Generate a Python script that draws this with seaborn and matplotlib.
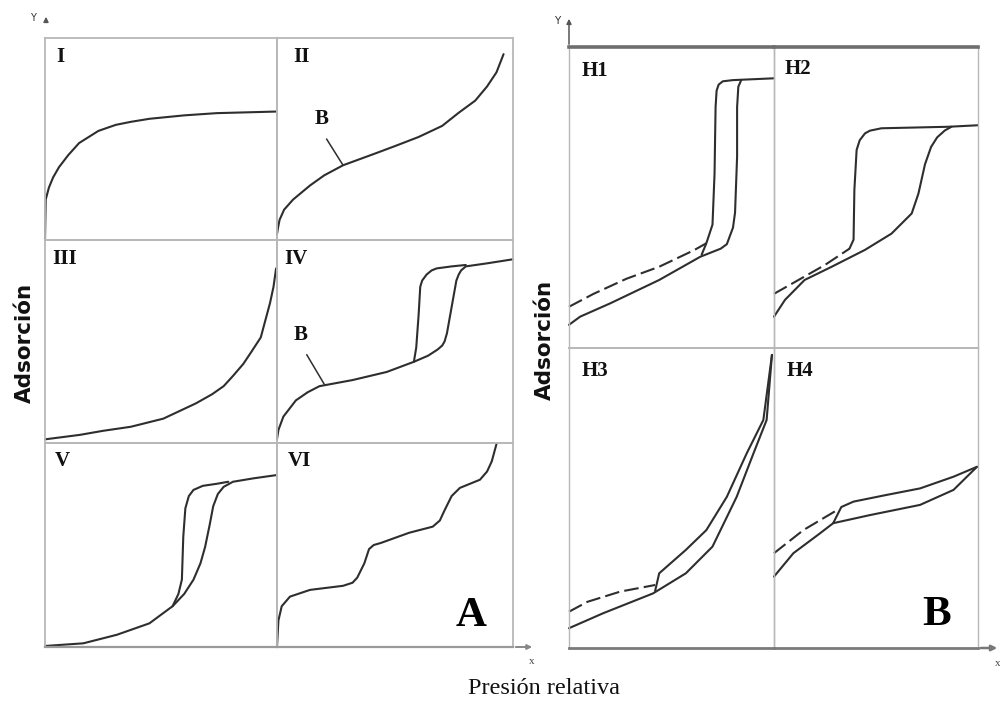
import matplotlib
matplotlib.use("Agg")
import matplotlib.pyplot as plt
import seaborn as sns

# ---------------- data (fractions of each cell: x = relative pressure, y = adsorption)
I_x = [0.0, 0.003, 0.017, 0.035, 0.06, 0.10, 0.147, 0.23, 0.305, 0.37, 0.45, 0.60, 0.74, 1.0]
I_y = [0.0, 0.20, 0.26, 0.31, 0.36, 0.42, 0.48, 0.54, 0.57, 0.585, 0.60, 0.617, 0.628, 0.636]

II_x = [0.0, 0.005, 0.011, 0.03, 0.068, 0.14, 0.20, 0.28, 0.35, 0.42, 0.50, 0.60, 0.70, 0.77, 0.84, 0.89, 0.93, 0.96]
II_y = [0.03, 0.065, 0.10, 0.15, 0.20, 0.27, 0.32, 0.37, 0.40, 0.43, 0.465, 0.51, 0.565, 0.63, 0.69, 0.76, 0.83, 0.92]

III_x = [0.0, 0.15, 0.25, 0.37, 0.51, 0.65, 0.72, 0.77, 0.81, 0.855, 0.89, 0.93, 0.97, 0.985, 0.996]
III_y = [0.018, 0.04, 0.06, 0.08, 0.12, 0.195, 0.24, 0.28, 0.33, 0.39, 0.45, 0.52, 0.69, 0.77, 0.86]

IV_ads_x = [0.0, 0.006, 0.027, 0.08, 0.13, 0.18, 0.32, 0.465, 0.58, 0.64, 0.68, 0.70, 0.71, 0.72, 0.74, 0.76, 0.77, 0.78, 0.80, 0.89, 1.0]
IV_ads_y = [0.02, 0.064, 0.13, 0.21, 0.25, 0.28, 0.31, 0.35, 0.40, 0.43, 0.46, 0.48, 0.50, 0.54, 0.67, 0.80, 0.83, 0.85, 0.87, 0.885, 0.905]
IV_des_x = [0.58, 0.59, 0.60, 0.607, 0.615, 0.634, 0.655, 0.676, 0.74, 0.80]
IV_des_y = [0.40, 0.47, 0.63, 0.77, 0.80, 0.83, 0.85, 0.86, 0.87, 0.877]

V_ads_x = [0.0, 0.165, 0.31, 0.45, 0.55, 0.60, 0.64, 0.67, 0.69, 0.71, 0.725, 0.745, 0.77, 0.81, 0.90, 1.0]
V_ads_y = [0.005, 0.018, 0.06, 0.116, 0.20, 0.26, 0.33, 0.41, 0.49, 0.60, 0.69, 0.75, 0.785, 0.81, 0.827, 0.843]
V_des_x = [0.55, 0.575, 0.59, 0.596, 0.605, 0.62, 0.64, 0.68, 0.74, 0.79]
V_des_y = [0.20, 0.26, 0.33, 0.54, 0.68, 0.74, 0.77, 0.79, 0.80, 0.81]

VI_x = [0.0, 0.006, 0.02, 0.055, 0.14, 0.28, 0.32, 0.34, 0.37, 0.39, 0.41, 0.44, 0.56, 0.66, 0.69, 0.71, 0.74, 0.775, 0.86, 0.89, 0.91, 0.93]
VI_y = [0.0, 0.13, 0.20, 0.247, 0.28, 0.30, 0.315, 0.34, 0.41, 0.48, 0.50, 0.51, 0.56, 0.59, 0.62, 0.67, 0.74, 0.78, 0.82, 0.86, 0.91, 0.995]

H1_ads_x = [0.0, 0.054, 0.2, 0.44, 0.64, 0.74, 0.77, 0.80, 0.81, 0.82, 0.82, 0.826, 0.84]
H1_ads_y = [0.077, 0.104, 0.148, 0.226, 0.303, 0.33, 0.345, 0.40, 0.45, 0.636, 0.80, 0.868, 0.89]
H1_des_x = [1.0, 0.80, 0.75, 0.73, 0.72, 0.715, 0.71, 0.70, 0.67, 0.647]
H1_des_y = [0.896, 0.89, 0.886, 0.875, 0.855, 0.80, 0.58, 0.41, 0.348, 0.31]
H1_dash_x = [0.0, 0.12, 0.28, 0.44, 0.61, 0.67]
H1_dash_y = [0.137, 0.18, 0.23, 0.27, 0.325, 0.348]

H2_ads_x = [0.0, 0.054, 0.15, 0.283, 0.446, 0.576, 0.675, 0.708, 0.74, 0.77, 0.80, 0.838, 0.87]
H2_ads_y = [0.104, 0.16, 0.226, 0.27, 0.326, 0.38, 0.447, 0.513, 0.61, 0.668, 0.70, 0.723, 0.735]
H2_des_x = [1.0, 0.855, 0.527, 0.47, 0.446, 0.42, 0.405, 0.394, 0.39, 0.37]
H2_des_y = [0.74, 0.735, 0.73, 0.722, 0.713, 0.69, 0.658, 0.525, 0.36, 0.33]
H2_dash_x = [0.0, 0.12, 0.25, 0.37]
H2_dash_y = [0.18, 0.226, 0.276, 0.33]

H3_ads_x = [0.0, 0.167, 0.41, 0.57, 0.70, 0.818, 0.9, 0.964, 0.99]
H3_ads_y = [0.066, 0.116, 0.182, 0.249, 0.338, 0.504, 0.649, 0.76, 0.977]
H3_des_x = [0.99, 0.948, 0.867, 0.77, 0.67, 0.57, 0.44, 0.42]
H3_des_y = [0.977, 0.76, 0.649, 0.504, 0.393, 0.327, 0.249, 0.19]
H3_dash_x = [0.0, 0.09, 0.25, 0.42]
H3_dash_y = [0.121, 0.154, 0.188, 0.21]

H4_ads_x = [0.0, 0.095, 0.225, 0.29, 0.47, 0.716, 0.88, 0.995]
H4_ads_y = [0.238, 0.316, 0.382, 0.416, 0.443, 0.477, 0.527, 0.604]
H4_des_x = [0.995, 0.88, 0.716, 0.55, 0.39, 0.33, 0.29]
H4_des_y = [0.604, 0.571, 0.532, 0.51, 0.488, 0.47, 0.416]
H4_dash_x = [0.0, 0.144, 0.31]
H4_dash_y = [0.316, 0.393, 0.46]

panel_labels_A = ["I", "II", "III", "IV", "V", "VI"]
panel_labels_B = ["H1", "H2", "H3", "H4"]
y_label = "Adsorción"
x_label = "Presión relativa"

# ---------------- figure
sns.set_theme(style="white")
plt.rcParams["font.family"] = ["DejaVu Sans"]
SERIF = ["Liberation Serif", "DejaVu Serif"]

W, H = 1000, 707
fig = plt.figure(figsize=(10, 7.07), dpi=100)
LINE = "#2e2e2e"
GRID = "#b8b8b8"


def add_cell(x0, x1, y0, y1):
    ax = fig.add_axes([x0 / W, 1 - y1 / H, (x1 - x0) / W, (y1 - y0) / H])
    ax.set_xlim(0, 1)
    ax.set_ylim(0, 1)
    ax.set_xticks([])
    ax.set_yticks([])
    ax.patch.set_alpha(0)
    for s in ax.spines.values():
        s.set_color(GRID)
        s.set_linewidth(1.3)
    return ax


def curve(ax, xs, ys, dashed=False):
    sns.lineplot(x=xs, y=ys, ax=ax, sort=False, estimator=None, color=LINE,
                 linewidth=1.5, linestyle=(0, (7, 2.5)) if dashed else "-",
                 legend=False, clip_on=False)


def label(ax, txt, x, y, size=15):
    ax.text(x, y, txt, transform=ax.transAxes, ha="left", va="top",
            fontsize=size, fontweight="bold", family=SERIF, color="#111111")


def pointer(ax, x0, y0, x1, y1):
    ax.plot([x0, x1], [y0, y1], color=LINE, linewidth=1.1)


# Panel A cells
axI = add_cell(45, 277, 38, 240)
axII = add_cell(277, 513, 38, 240)
axIII = add_cell(45, 277, 240, 443)
axIV = add_cell(277, 513, 240, 443)
axV = add_cell(45, 277, 443, 647)
axVI = add_cell(277, 513, 443, 647)
for a in (axV, axVI):
    a.spines["bottom"].set_color("#9a9a9a")
    a.spines["bottom"].set_linewidth(1.6)

curve(axI, I_x, I_y)
curve(axII, II_x, II_y)
curve(axIII, III_x, III_y)
curve(axIV, IV_ads_x, IV_ads_y)
curve(axIV, IV_des_x, IV_des_y)
curve(axV, V_ads_x, V_ads_y)
curve(axV, V_des_x, V_des_y)
curve(axVI, VI_x, VI_y)

label_pos_A = [(0.05, 0.955), (0.07, 0.955), (0.03, 0.955), (0.03, 0.955), (0.04, 0.96), (0.045, 0.96)]
for a, t, (px, py) in zip((axI, axII, axIII, axIV, axV, axVI), panel_labels_A, label_pos_A):
    label(a, t, px, py)

axII.text(0.19, 0.60, "B", ha="center", va="center", fontsize=15, fontweight="bold", family=SERIF, color="#111")
pointer(axII, 0.21, 0.50, 0.28, 0.37)
axIV.text(0.10, 0.53, "B", ha="center", va="center", fontsize=15, fontweight="bold", family=SERIF, color="#111")
pointer(axIV, 0.126, 0.435, 0.2, 0.29)
axVI.text(0.755, 0.105, "A", ha="left", va="baseline", fontsize=31, fontweight="bold", family=SERIF, color="#000")

# Panel B cells
axH1 = add_cell(569, 774, 47, 348)
axH2 = add_cell(774, 978, 47, 348)
axH3 = add_cell(569, 774, 348, 648)
axH4 = add_cell(774, 978, 348, 648)
for a in (axH1, axH2):
    a.spines["top"].set_color("#6e6e6e")
    a.spines["top"].set_linewidth(2.6)
for a in (axH3, axH4):
    a.spines["bottom"].set_color("#7a7a7a")
    a.spines["bottom"].set_linewidth(2.0)
for a in (axH1, axH2, axH3, axH4):
    a.spines["left"].set_linewidth(1.0)
    a.spines["right"].set_linewidth(1.0)

curve(axH1, H1_ads_x, H1_ads_y)
curve(axH1, H1_des_x, H1_des_y)
curve(axH1, H1_dash_x, H1_dash_y, dashed=True)
curve(axH2, H2_ads_x, H2_ads_y)
curve(axH2, H2_des_x, H2_des_y)
curve(axH2, H2_dash_x, H2_dash_y, dashed=True)
curve(axH3, H3_ads_x, H3_ads_y)
curve(axH3, H3_des_x, H3_des_y)
curve(axH3, H3_dash_x, H3_dash_y, dashed=True)
curve(axH4, H4_ads_x, H4_ads_y)
curve(axH4, H4_des_x, H4_des_y)
curve(axH4, H4_dash_x, H4_dash_y, dashed=True)

label_pos_B = [(0.06, 0.955), (0.05, 0.96), (0.06, 0.955), (0.06, 0.955)]
for a, t, (px, py) in zip((axH1, axH2, axH3, axH4), panel_labels_B, label_pos_B):
    label(a, t, px, py)
axH4.text(0.725, 0.077, "B", ha="left", va="baseline", fontsize=31, fontweight="bold", family=SERIF, color="#000")

# ---------------- overlay for axis arrows and titles (pixel coordinates)
ov = fig.add_axes([0, 0, 1, 1], zorder=10)
ov.set_xlim(0, W)
ov.set_ylim(H, 0)
ov.axis("off")
ov.patch.set_alpha(0)

arrow_kw = dict(arrowstyle="-|>", color="#555555", lw=1.1, mutation_scale=7)
ov.annotate("", xy=(46, 14), xytext=(46, 24), arrowprops=arrow_kw)
ov.text(33, 18, "Y", fontsize=7, ha="center", va="center", color="#333")
ov.annotate("", xy=(569, 16), xytext=(569, 47), arrowprops=arrow_kw)
ov.text(557, 21, "Y", fontsize=7.5, ha="center", va="center", color="#333")
ov.annotate("", xy=(535, 647), xytext=(513, 647), arrowprops=dict(arrowstyle="-|>", color="#888", lw=1.4, mutation_scale=7))
ov.text(532, 661, "x", fontsize=8, ha="center", va="center", color="#444", family=SERIF)
ov.annotate("", xy=(1000, 648), xytext=(978, 648), arrowprops=dict(arrowstyle="-|>", color="#777", lw=1.8, mutation_scale=8))
ov.text(998, 664, "x", fontsize=8, ha="center", va="center", color="#444", family=SERIF)

ov.text(25, 343, y_label, rotation=90, ha="center", va="center", fontsize=15.5, fontweight="bold", color="#111")
ov.text(545, 340, y_label, rotation=90, ha="center", va="center", fontsize=15.5, fontweight="bold", color="#111")
ov.text(544, 689, x_label, ha="center", va="center", fontsize=17.5, family=SERIF, color="#111")

fig.savefig("out.png", dpi=100, facecolor="white")
